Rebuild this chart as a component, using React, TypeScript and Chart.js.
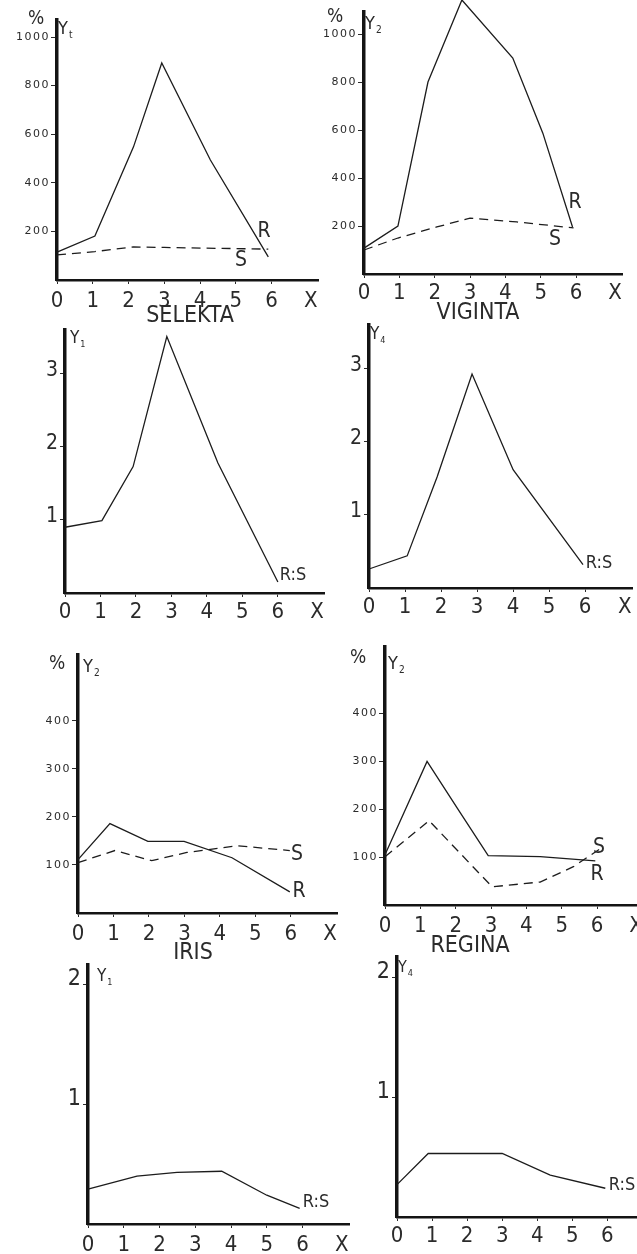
import React, { useEffect, useRef } from 'react';
import { Chart, registerables } from 'chart.js';

Chart.register(...registerables);

// ---------------- data ----------------
const xTickValues = [0, 1, 2, 3, 4, 5, 6];
const xAxisNamePos = 7.1;
const xAxisName = 'X';

const percentTicksHigh = [200, 400, 600, 800, 1000];
const percentTicksLow = [100, 200, 300, 400];
const ratioTicksThree = [1, 2, 3];
const ratioTicksTwo = [1, 2];

// SELEKTA, % (Y2)
const selektaRx = [0, 1.06, 2.14, 2.93, 4.29, 5.91];
const selektaR = [115, 181, 548, 893, 494, 95];
const selektaSx = [0, 1.06, 2.14, 3, 5.91];
const selektaS = [103, 117, 136, 134, 127];

// VIGINTA, % (Y2)
const vigintaRx = [0, 0.96, 1.81, 2.77, 4.21, 5.06, 5.9];
const vigintaR = [108, 200, 800, 1142, 900, 587, 196];
const vigintaSx = [0, 0.96, 2.06, 3.0, 4.32, 5.93];
const vigintaS = [100, 150, 196, 233, 217, 192];

// SELEKTA, R:S (Y1)
const selektaRatioX = [0, 1.04, 1.92, 2.87, 4.31, 6.0];
const selektaRatio = [0.9, 0.99, 1.73, 3.51, 1.78, 0.15];

// VIGINTA, R:S (Y1)
const vigintaRatioX = [0, 1.06, 1.89, 2.86, 4.0, 5.94];
const vigintaRatio = [0.26, 0.44, 1.52, 2.93, 1.62, 0.32];

// IRIS, % (Y2)
const irisRx = [0, 0.9, 1.97, 2.99, 4.34, 5.97];
const irisR = [111, 186, 149, 149, 115, 44];
const irisSx = [0, 1.04, 2.08, 3.07, 4.48, 5.97];
const irisS = [105, 130, 109, 126, 140, 130];

// REGINA, % (Y2)
const reginaRx = [0, 1.19, 2.04, 2.92, 4.39, 5.95];
const reginaR = [105, 300, 203, 103, 101, 92];
const reginaSx = [0, 1.25, 3.03, 4.39, 5.33, 6.18];
const reginaS = [101, 176, 38, 48, 80, 122];

// IRIS, R:S (Y1)
const irisRatioX = [0, 1.37, 2.49, 3.74, 5.0, 5.92];
const irisRatio = [0.29, 0.4, 0.43, 0.44, 0.24, 0.13];

// REGINA, R:S (Y1)
const reginaRatioX = [0, 0.89, 3.0, 4.37, 5.94];
const reginaRatio = [0.27, 0.53, 0.53, 0.35, 0.24];

// ---------------- styles ----------------
const INK = '#2b2b2b';
const LINE = '#1c1c1c';
const AXIS = '#141414';
const NARROW = "'Liberation Sans Narrow', 'DejaVu Sans Condensed', 'Roboto Condensed', 'Liberation Sans', sans-serif";
const WIDE = "'DejaVu Sans', 'Liberation Sans', sans-serif";

const YW = 52; // y axis box width
const XH = 62; // x axis box height
const PAD_T = 24;
const PAD_R = 16;

type Series = { xs: number[]; ys: number[]; dashed?: boolean };
type Note = { text: string; sub?: string; x: number; y: number; size: number; align?: CanvasTextAlign };
type Panel = {
  area: { L: number; T: number; R: number; B: number };
  xMax: number;
  yMax: number;
  yTicks: number[];
  ratio: boolean;
  xPad: number;
  yFont: number;
  yOffset: number;
  series: Series[];
  notes: Note[];
};

const PANELS: Panel[] = [
  {
    area: { L: 57, T: 20, R: 318, B: 280 },
    xMax: 7.3, yMax: 1070, yTicks: percentTicksHigh, ratio: false, xPad: 4, yFont: 11, yOffset: 0,
    series: [
      { xs: selektaRx, ys: selektaR },
      { xs: selektaSx, ys: selektaS, dashed: true },
    ],
    notes: [
      { text: '%', x: 36, y: 19, size: 19 },
      { text: 'Y', sub: 't', x: 58, y: 29, size: 18, align: 'left' },
      { text: 'R', x: 264, y: 232, size: 21 },
      { text: 'S', x: 241, y: 261, size: 21 },
      { text: 'SELEKTA', x: 190, y: 316, size: 23 },
    ],
  },
  {
    area: { L: 364, T: 12, R: 622, B: 274 },
    xMax: 7.3, yMax: 1092, yTicks: percentTicksHigh, ratio: false, xPad: 2, yFont: 11, yOffset: 0,
    series: [
      { xs: vigintaRx, ys: vigintaR },
      { xs: vigintaSx, ys: vigintaS, dashed: true },
    ],
    notes: [
      { text: '%', x: 335, y: 17, size: 19 },
      { text: 'Y', sub: '2', x: 365, y: 24, size: 18, align: 'left' },
      { text: 'R', x: 575, y: 203, size: 21 },
      { text: 'S', x: 555, y: 240, size: 21 },
      { text: 'VIGINTA', x: 478, y: 313, size: 23 },
    ],
  },
  {
    area: { L: 65, T: 330, R: 324, B: 593 },
    xMax: 7.3, yMax: 3.6, yTicks: ratioTicksThree, ratio: true, xPad: 2, yFont: 21, yOffset: -3,
    series: [{ xs: selektaRatioX, ys: selektaRatio }],
    notes: [
      { text: 'Y', sub: '1', x: 70, y: 339, size: 17, align: 'left' },
      { text: 'R:S', x: 293, y: 575, size: 18 },
    ],
  },
  {
    area: { L: 369, T: 325, R: 632, B: 588 },
    xMax: 7.3, yMax: 3.6, yTicks: ratioTicksThree, ratio: true, xPad: 2, yFont: 21, yOffset: -3,
    series: [{ xs: vigintaRatioX, ys: vigintaRatio }],
    notes: [
      { text: 'Y', sub: '4', x: 370, y: 335, size: 17, align: 'left' },
      { text: 'R:S', x: 599, y: 563, size: 18 },
    ],
  },
  {
    area: { L: 78, T: 655, R: 337, B: 913 },
    xMax: 7.3, yMax: 537, yTicks: percentTicksLow, ratio: false, xPad: 4, yFont: 11, yOffset: 0,
    series: [
      { xs: irisRx, ys: irisR },
      { xs: irisSx, ys: irisS, dashed: true },
    ],
    notes: [
      { text: '%', x: 57, y: 664, size: 19 },
      { text: 'Y', sub: '2', x: 83, y: 667, size: 18, align: 'left' },
      { text: 'S', x: 297, y: 855, size: 21 },
      { text: 'R', x: 299, y: 892, size: 21 },
      { text: 'IRIS', x: 193, y: 953, size: 23 },
    ],
  },
  {
    area: { L: 385, T: 647, R: 643, B: 905 },
    xMax: 7.3, yMax: 539, yTicks: percentTicksLow, ratio: false, xPad: 4, yFont: 11, yOffset: 0,
    series: [
      { xs: reginaRx, ys: reginaR },
      { xs: reginaSx, ys: reginaS, dashed: true },
    ],
    notes: [
      { text: '%', x: 358, y: 658, size: 19 },
      { text: 'Y', sub: '2', x: 388, y: 664, size: 18, align: 'left' },
      { text: 'S', x: 599, y: 848, size: 21 },
      { text: 'R', x: 597, y: 875, size: 21 },
      { text: 'REGINA', x: 470, y: 946, size: 23 },
    ],
  },
  {
    area: { L: 88, T: 965, R: 349, B: 1224 },
    xMax: 7.3, yMax: 2.16, yTicks: ratioTicksTwo, ratio: true, xPad: 4, yFont: 23, yOffset: -5,
    series: [{ xs: irisRatioX, ys: irisRatio }],
    notes: [
      { text: 'Y', sub: '1', x: 97, y: 977, size: 17, align: 'left' },
      { text: 'R:S', x: 316, y: 1202, size: 18 },
    ],
  },
  {
    area: { L: 397, T: 957, R: 653, B: 1217 },
    xMax: 7.3, yMax: 2.17, yTicks: ratioTicksTwo, ratio: true, xPad: 2, yFont: 23, yOffset: -5,
    series: [{ xs: reginaRatioX, ys: reginaRatio }],
    notes: [
      { text: 'Y', sub: '4', x: 398, y: 968, size: 16, align: 'left' },
      { text: 'R:S', x: 622, y: 1185, size: 18 },
    ],
  },
];

function rectOf(p: Panel) {
  const l = p.area.L - YW;
  const t = p.area.T - PAD_T;
  const w = Math.round(p.area.R + PAD_R - l);
  const h = Math.round(p.area.B + XH - t);
  return { l, t, w, h };
}

// y tick labels of the percentage panels are drawn last (ticks.z = 1), with wider spacing
function spacingPlugin(wide: boolean) {
  return {
    id: 'spacing',
    afterDatasetsDraw(chart: any) {
      if (wide) (chart.ctx as any).letterSpacing = '1.5px';
    },
    afterDraw(chart: any) {
      (chart.ctx as any).letterSpacing = '0px';
    },
  };
}

function notesPlugin(notes: Note[], l: number, t: number) {
  return {
    id: 'notes',
    afterDraw(chart: any) {
      const ctx: CanvasRenderingContext2D = chart.ctx;
      ctx.save();
      (ctx as any).letterSpacing = '0px';
      ctx.fillStyle = INK;
      ctx.textBaseline = 'middle';
      for (const n of notes) {
        ctx.font = `${n.size}px ${NARROW}`;
        ctx.textAlign = n.align || 'center';
        const x = n.x - l;
        const y = n.y - t;
        ctx.fillText(n.text, x, y);
        if (n.sub) {
          const w = ctx.measureText(n.text).width;
          ctx.font = `${Math.round(n.size * 0.55)}px ${NARROW}`;
          ctx.textAlign = 'left';
          ctx.fillText(n.sub, x + w + 1, y + n.size * 0.35);
        }
      }
      ctx.restore();
    },
  };
}

function buildConfig(p: Panel): any {
  const r = rectOf(p);
  return {
    type: 'line',
    data: {
      datasets: p.series.map((s) => ({
        data: s.xs.map((x, i) => ({ x, y: s.ys[i] })),
        borderColor: LINE,
        borderWidth: 1.3,
        borderDash: s.dashed ? [9, 6] : [],
        pointRadius: 0,
        fill: false,
        tension: 0,
        clip: false,
      })),
    },
    options: {
      animation: false,
      responsive: false,
      devicePixelRatio: 1,
      layout: { padding: { top: p.area.T - r.t, right: r.l + r.w - p.area.R, left: 0, bottom: 0 } },
      plugins: { legend: { display: false }, tooltip: { enabled: false }, title: { display: false } },
      scales: {
        x: {
          type: 'linear',
          min: 0,
          max: p.xMax,
          afterBuildTicks: (scale: any) => {
            scale.ticks = [...xTickValues, xAxisNamePos].map((value) => ({ value }));
          },
          afterFit: (scale: any) => {
            scale.height = XH;
          },
          ticks: {
            autoSkip: false,
            maxRotation: 0,
            minRotation: 0,
            padding: p.xPad,
            color: INK,
            font: { family: NARROW, size: 22 },
            callback: (v: number) => (v > 6.5 ? xAxisName : String(v)),
          },
          grid: {
            display: true,
            drawOnChartArea: false,
            drawTicks: true,
            tickLength: 4,
            tickWidth: 1,
            tickColor: (c: any) => (c.tick && c.tick.value > 6.5 ? 'rgba(0,0,0,0)' : INK),
          },
          border: { display: true, color: AXIS, width: 2.6 },
        },
        y: {
          type: 'linear',
          min: 0,
          max: p.yMax,
          afterBuildTicks: (scale: any) => {
            scale.ticks = p.yTicks.map((value) => ({ value }));
          },
          afterFit: (scale: any) => {
            scale.width = YW;
          },
          ticks: {
            autoSkip: false,
            padding: p.ratio ? 2 : 1,
            labelOffset: p.yOffset,
            color: INK,
            z: p.ratio ? 0 : 1,
            font: { family: p.ratio ? NARROW : WIDE, size: p.yFont },
            callback: (v: number) => String(v),
          },
          grid: {
            display: true,
            drawOnChartArea: false,
            drawTicks: true,
            tickLength: p.ratio ? 5 : 6,
            tickWidth: 1,
            tickColor: INK,
          },
          border: { display: true, color: AXIS, width: 3.5 },
        },
      },
    },
    plugins: [spacingPlugin(!p.ratio), notesPlugin(p.notes, r.l, r.t)],
  };
}

export default function App() {
  const refs = useRef<(HTMLCanvasElement | null)[]>([]);

  useEffect(() => {
    const charts = PANELS.map((p, i) => {
      const canvas = refs.current[i] as HTMLCanvasElement;
      return new Chart(canvas, buildConfig(p));
    });
    return () => {
      charts.forEach((c) => c.destroy());
    };
  }, []);

  return (
    <div
      style={{
        position: 'absolute',
        left: 0,
        top: 0,
        width: 637,
        height: 1254,
        overflow: 'hidden',
        background: '#ffffff',
      }}
    >
      {PANELS.map((p, i) => {
        const r = rectOf(p);
        return (
          <canvas
            key={i}
            ref={(el) => {
              refs.current[i] = el;
            }}
            width={r.w}
            height={r.h}
            style={{ position: 'absolute', left: r.l, top: r.t, width: r.w, height: r.h }}
          />
        );
      })}
    </div>
  );
}
